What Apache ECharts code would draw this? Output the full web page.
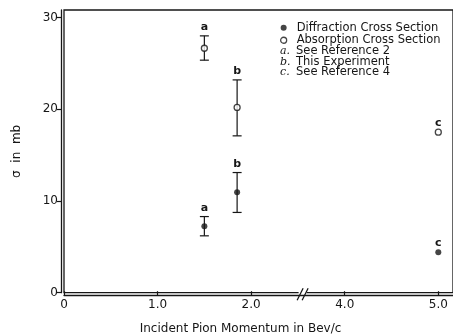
<!DOCTYPE html>
<html>
<head>
<meta charset="utf-8">
<script src="https://cdn.jsdelivr.net/npm/echarts@6/dist/echarts.min.js"></script>
<style>
  html, body { margin: 0; padding: 0; background: #fff; }
  #chart { width: 453px; height: 336px; }
</style>
</head>
<body>
<div id="chart"></div>
<script>
// Incident pion momentum (Bev/c) for each measurement
const momentum = [1.5, 1.85, 5.0];
// Reference letter of each measurement
const refs = ['a', 'b', 'c'];
// Diffraction cross section (mb) with error limits
const diffraction = [7.25, 10.95, 4.4];
const diffLow = [6.2, 8.75, null];
const diffHigh = [8.3, 13.1, null];
// Absorption cross section (mb) with error limits
const absorption = [26.65, 20.2, 17.5];
const absLow = [25.35, 17.1, null];
const absHigh = [28.0, 23.2, null];
// Axis tick values and their labels
const xTickValues = [0, 1, 2, 4, 5];
const xTickLabels = ['0', '1.0', '2.0', '4.0', '5.0'];
const yTickValues = [0, 10, 20, 30];
// Reference notes shown under the legend
const notes = [['a', 'See Reference 2'], ['b', 'This Experiment'], ['c', 'See Reference 4']];

// The momentum axis is broken between 2 and 4 Bev/c: the part beyond the break
// is shifted left by one unit.
const BREAK_AT = 2.55;
const SHIFT = 1;
const toAxis = m => (m <= BREAK_AT ? m : m - SHIFT);

const INK = '#161616';
const FONT = '"DejaVu Sans", "Liberation Sans", sans-serif';

function barData(values, lows, highs) {
  return momentum.map((m, i) => [toAxis(m), values[i], lows[i], highs[i], refs[i]]);
}

function renderBar(params, api) {
  const x = api.value(0);
  const val = api.value(1);
  const lo = api.value(2);
  const hi = api.value(3);
  const letter = refs[params.dataIndex];
  const children = [];
  const style = { stroke: INK, lineWidth: 1.2 };
  let topY;
  if (lo != null && !isNaN(lo) && hi != null && !isNaN(hi)) {
    const pLo = api.coord([x, lo]);
    const pHi = api.coord([x, hi]);
    const cap = 4.5;
    children.push(
      { type: 'line', shape: { x1: pLo[0], y1: pLo[1], x2: pHi[0], y2: pHi[1] }, style },
      { type: 'line', shape: { x1: pLo[0] - cap, y1: pLo[1], x2: pLo[0] + cap, y2: pLo[1] }, style },
      { type: 'line', shape: { x1: pHi[0] - cap, y1: pHi[1], x2: pHi[0] + cap, y2: pHi[1] }, style }
    );
    topY = pHi[1];
  } else {
    topY = api.coord([x, val])[1] - 1;
  }
  const px = api.coord([x, val])[0];
  children.push({
    type: 'text',
    style: {
      text: letter, x: px, y: topY - 3, align: 'center', verticalAlign: 'bottom',
      font: '600 11px ' + FONT, fill: INK
    }
  });
  return { type: 'group', children };
}

const chart = echarts.init(document.getElementById('chart'), null, { renderer: 'canvas' });

const option = {
  backgroundColor: '#fff',
  animation: false,
  grid: {
    left: 64, right: 0, top: 10, bottom: 43.3, outerBoundsMode: 'none', containLabel: false,
    show: true, borderColor: INK, borderWidth: 1.3, backgroundColor: 'transparent'
  },
  xAxis: {
    type: 'value', min: 0, max: 4.157, offset: 2.5,
    name: 'Incident Pion Momentum in Bev/c', nameLocation: 'middle', nameGap: 28,
    nameTextStyle: { fontFamily: FONT, fontSize: 12, color: INK, padding: [0, 36, 0, 0] },
    axisLine: { show: true, onZero: false, lineStyle: { color: INK, width: 1.3 } },
    axisTick: { show: true, length: -4, inside: false, lineStyle: { color: INK, width: 1.2 },
      customValues: xTickValues.map(toAxis) },
    axisLabel: {
      customValues: xTickValues.map(toAxis),
      formatter: v => {
        const i = xTickValues.map(toAxis).findIndex(t => Math.abs(t - v) < 1e-6);
        return i >= 0 ? xTickLabels[i] : '';
      },
      fontFamily: FONT, fontSize: 12, color: INK, margin: 4
    },
    splitLine: { show: false }
  },
  yAxis: {
    type: 'value', min: 0, max: 30.82, offset: 3,
    name: 'σ  in  mb', nameLocation: 'middle', nameGap: 38, nameRotate: 90,
    nameTextStyle: { fontFamily: FONT, fontSize: 12, color: INK },
    axisLine: { show: true, onZero: false, lineStyle: { color: INK, width: 1.3 } },
    axisTick: { show: true, length: 4, lineStyle: { color: INK, width: 1.2 }, customValues: yTickValues },
    axisLabel: { customValues: yTickValues, fontFamily: FONT, fontSize: 12, color: INK, margin: 3 },
    splitLine: { show: false }
  },
  legend: {
    orient: 'vertical', left: 280, top: 21.5, itemGap: 0, padding: 0,
    itemWidth: 6, itemHeight: 6, icon: 'circle',
    textStyle: { fontFamily: FONT, fontSize: 11.5, lineHeight: 12.5, color: INK, padding: [0, 0, 0, 5] },
    data: [
      { name: 'Diffraction Cross Section', itemStyle: { color: INK, borderWidth: 0 } },
      { name: 'Absorption Cross Section', itemStyle: { color: '#fff', borderColor: INK, borderWidth: 1.3 } }
    ]
  },
  series: [
    {
      type: 'custom', name: 'diffBars', renderItem: renderBar, silent: true, z: 2,
      encode: { x: 0, y: [1, 2, 3] },
      data: barData(diffraction, diffLow, diffHigh)
    },
    {
      type: 'custom', name: 'absBars', renderItem: renderBar, silent: true, z: 2,
      encode: { x: 0, y: [1, 2, 3] },
      data: barData(absorption, absLow, absHigh)
    },
    {
      type: 'scatter', name: 'Diffraction Cross Section', symbol: 'circle', symbolSize: 6, z: 3,
      itemStyle: { color: INK, borderWidth: 0 },
      data: momentum.map((m, i) => [toAxis(m), diffraction[i]])
    },
    {
      type: 'scatter', name: 'Absorption Cross Section', symbol: 'circle', symbolSize: 6, z: 3,
      itemStyle: { color: '#fff', borderColor: INK, borderWidth: 1.3 },
      data: momentum.map((m, i) => [toAxis(m), absorption[i]])
    }
  ]
};

chart.setOption(option);

// Reference notes and the axis break mark
function drawExtras() {
  const noteTop = 51.5;
  const noteGap = 10.5;
  const noteElems = notes.map((n, i) => ({
    type: 'text',
    x: 280, y: noteTop + i * noteGap,
    style: {
      text: '{l|' + n[0] + '.}{t|' + n[1] + '}',
      verticalAlign: 'middle',
      rich: {
        l: { fontFamily: '"DejaVu Serif", serif', fontStyle: 'italic', fontSize: 11, fill: INK, width: 16 },
        t: { fontFamily: FONT, fontSize: 11.5, fill: INK }
      }
    }
  }));
  const b = chart.convertToPixel({ gridIndex: 0 }, [BREAK_AT, 0]);
  const axisY = b[1] + 1.5;
  const slash = (dx) => ({
    type: 'line',
    shape: { x1: b[0] + dx - 3, y1: axisY + 6, x2: b[0] + dx + 3, y2: axisY - 6 },
    style: { stroke: INK, lineWidth: 1.2 }
  });
  chart.setOption({
    graphic: [
      ...noteElems,
      { type: 'rect', shape: { x: b[0] - 4, y: axisY - 3, width: 8, height: 6 }, style: { fill: '#fff' } },
      slash(-2.5), slash(2.5)
    ]
  });
}
drawExtras();
</script>
</body>
</html>
